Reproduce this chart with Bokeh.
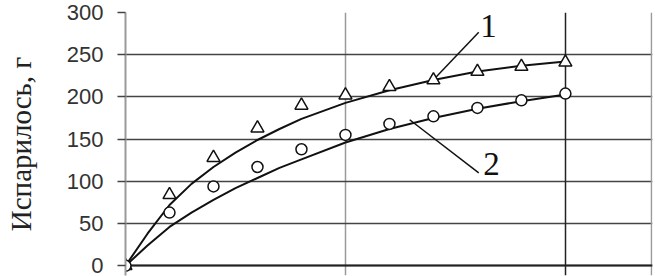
from bokeh.plotting import figure
from bokeh.models import FixedTicker, Grid, Range1d
from bokeh.core.properties import value
from bokeh.embed import file_html
from bokeh.resources import INLINE

# measured points
time_pts = [0, 1, 2, 3, 4, 5, 6, 7, 8, 9, 10]
evap_1 = [0, 84, 128, 163, 190, 202, 212, 220, 230, 236, 241]   # triangles, curve 1
evap_2 = [0, 63, 94, 117, 138, 155, 168, 177, 187, 196, 204]    # circles, curve 2

# trend curves
trend_x = [0, 0.5, 1, 1.5, 2, 2.5, 3, 3.5, 4, 5, 6, 7, 8, 9, 10]
trend_1 = [0, 38, 72, 97, 117, 134, 149, 162, 174, 193, 208, 220, 230, 237, 242]
trend_2 = [0, 24, 46, 63, 78, 92, 104, 116, 126, 146, 162, 175, 186, 195, 203]

# leader lines for curve labels
leader_1_x = [8.03, 7.05]
leader_1_y = [276.5, 223]
leader_2_x = [6.46, 8.03]
leader_2_y = [173, 110]
curve_labels = ["1", "2"]
label_x = [8.25, 8.32]
label_y = [284.5, 120]

y_ticks = [0, 50, 100, 150, 200, 250, 300]
x_grid_ticks = [5, 10]
x_max = 11.98

p = figure(width=655, height=276, output_backend="svg", toolbar_location=None,
           x_range=Range1d(0, x_max), y_range=Range1d(-11.5, 300),
           x_axis_location=None,
           min_border_left=125, min_border_right=3, min_border_top=12,
           min_border_bottom=1, background_fill_color="white",
           border_fill_color="white")

p.outline_line_color = None

# y axis
p.yaxis.ticker = FixedTicker(ticks=y_ticks)
p.yaxis.axis_line_color = "#9a9a9a"
p.yaxis.axis_line_width = 2
p.yaxis.major_tick_out = 8
p.yaxis.major_tick_in = 0
p.yaxis.major_tick_line_color = "#444444"
p.yaxis.major_tick_line_width = 1.5
p.yaxis.minor_tick_line_color = None
p.yaxis.major_label_standoff = 14
p.yaxis.major_label_text_font = "Liberation Sans"
p.yaxis.major_label_text_font_size = "22px"
p.yaxis.major_label_text_color = "#333333"
p.yaxis.axis_label = "Испарилось, г"
p.yaxis.axis_label_text_font = "Liberation Serif"
p.yaxis.axis_label_text_font_size = "29px"
p.yaxis.axis_label_text_font_style = "normal"
p.yaxis.axis_label_text_color = "#222222"
p.yaxis.axis_label_standoff = 27

# grids
p.ygrid.grid_line_color = "#444444"
p.ygrid.grid_line_width = 1.5
p.xgrid.ticker = FixedTicker(ticks=[x_grid_ticks[0]])
p.xgrid.grid_line_color = "#9a9a9a"
p.xgrid.grid_line_width = 1.5
p.add_layout(Grid(dimension=0, ticker=FixedTicker(ticks=[x_grid_ticks[1]]),
                  grid_line_color="#222222", grid_line_width=1.5))
p.add_layout(Grid(dimension=0, ticker=FixedTicker(ticks=[x_max - 0.02]),
                  grid_line_color="#9a9a9a", grid_line_width=1.5))
p.add_layout(Grid(dimension=1, ticker=FixedTicker(ticks=[0]),
                  grid_line_color="#222222", grid_line_width=2))

# trend curves
p.line(trend_x, trend_1, line_color="#111111", line_width=2)
p.line(trend_x, trend_2, line_color="#111111", line_width=2)

# leaders
p.line(leader_1_x, leader_1_y, line_color="#111111", line_width=1.5)
p.line(leader_2_x, leader_2_y, line_color="#111111", line_width=1.5)

# markers
p.scatter(time_pts, evap_1, marker="triangle", size=13, fill_color="white",
          line_color="#111111", line_width=1.5)
p.scatter(time_pts, evap_2, marker="circle", size=11, fill_color="white",
          line_color="#111111", line_width=1.5)

p.text(x=label_x, y=label_y, text=curve_labels, text_font=value("Liberation Serif"),
       text_font_size="33px", text_align="center", text_baseline="middle",
       text_color="#111111")

open("out.html", "w").write(file_html(p, INLINE))
